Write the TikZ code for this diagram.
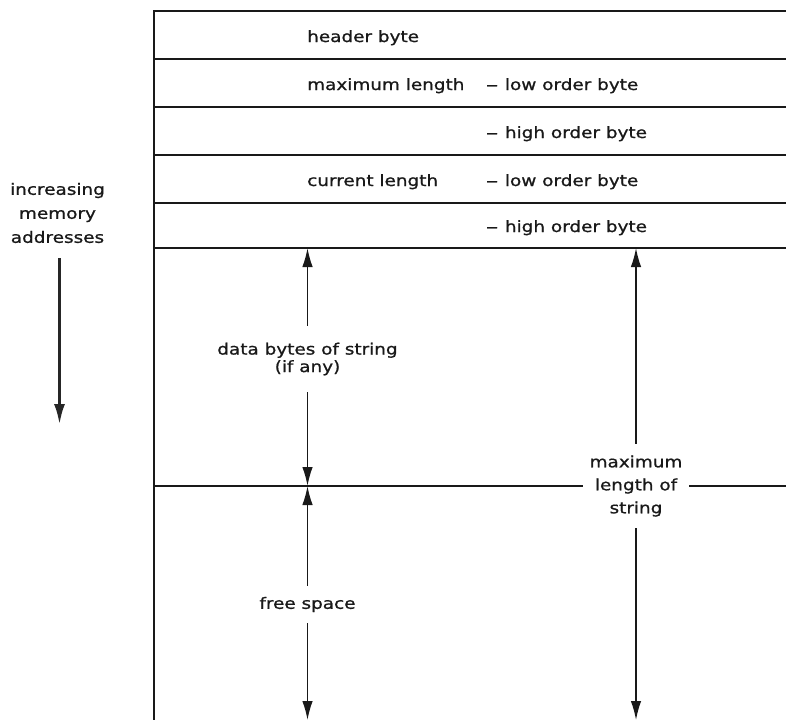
\documentclass[tikz,border=0pt]{standalone}
\usepackage{fontspec}
\setmainfont{DejaVu Sans}[FakeStretch=1.18,FakeBold=0.9]
\usetikzlibrary{arrows.meta}
\begin{document}
\begin{tikzpicture}[x=1pt,y=-1pt,
  box/.style={line width=1.8pt,draw=black!90},
  arr/.style={line width=1.5pt,draw=black!90,-{Latex[length=19pt,width=10.5pt]}},
  bigarr/.style={line width=3.2pt,draw=black!85,-{Latex[length=21pt,width=11pt]}},
  txt/.style={font=\fontsize{15.6}{22.5}\selectfont, inner sep=0pt, text=black!90},
  rowtxt/.style={txt, anchor=base west},
  gaplbl/.style={txt, align=center, anchor=center}]
\path[use as bounding box, fill=white] (0,0) rectangle (786,720);

% memory block outline and byte rows
\draw[box] (786,11) -- (154,11) -- (154,720);
\draw[box] (154,59) -- (786,59);
\draw[box] (154,107) -- (786,107);
\draw[box] (154,155) -- (786,155);
\draw[box] (154,203) -- (786,203);
\draw[box] (154,248) -- (786,248);

% row texts
\node[rowtxt] (hdr)   at (307,42)  {header byte};
\node[rowtxt] (maxl)  at (307,90)  {maximum length};
\node[rowtxt] (maxlo) at (486,90)  {‒\hspace{0.45em}low order byte};
\node[rowtxt] (maxhi) at (486,138) {‒\hspace{0.45em}high order byte};
\node[rowtxt] (curl)  at (307,186) {current length};
\node[rowtxt] (curlo) at (486,186) {‒\hspace{0.45em}low order byte};
\node[rowtxt] (curhi) at (486,232) {‒\hspace{0.45em}high order byte};

% left side label and arrow
\node[gaplbl, font=\fontsize{15.6}{24}\selectfont] (incr) at (57.5,213) {increasing\\memory\\addresses};
\coordinate (atop) at (59.5,258);
\coordinate (abot) at (59.5,425);
\draw[bigarr] (atop) -- (abot);

% coordinates for arrow ends
\coordinate (dtop) at (307.5,248);
\coordinate (dbot) at (307.5,486);
\coordinate (ftop) at (307.5,486);
\coordinate (fbot) at (307.5,720);
\coordinate (mtop) at (636,248);
\coordinate (mbot) at (636,720);
\coordinate (midL) at (154,486);
\coordinate (midR) at (786,486);

% labels in the gaps
\node[gaplbl, font=\fontsize{15.6}{17.5}\selectfont, minimum height=66pt] (data) at (307.5,359) {data bytes of string\\(if any)};
\node[gaplbl, minimum height=37pt] (free) at (307.5,604.5) {free space};
\node[gaplbl, font=\fontsize{15.6}{23}\selectfont, minimum height=84pt, minimum width=106pt] (maxs) at (636,486) {maximum\\length of\\string};

% middle boundary line
\draw[box] (midL) -- (maxs.west);
\draw[box] (maxs.east) -- (midR);

% dimension arrows
\draw[arr] (data.north) -- (dtop);
\draw[arr] (data.south) -- (dbot);
\draw[arr] (free.north) -- (ftop);
\draw[arr] (free.south) -- (fbot);
\draw[arr] (maxs.north) -- (mtop);
\draw[arr] (maxs.south) -- (mbot);
\end{tikzpicture}
\end{document}
